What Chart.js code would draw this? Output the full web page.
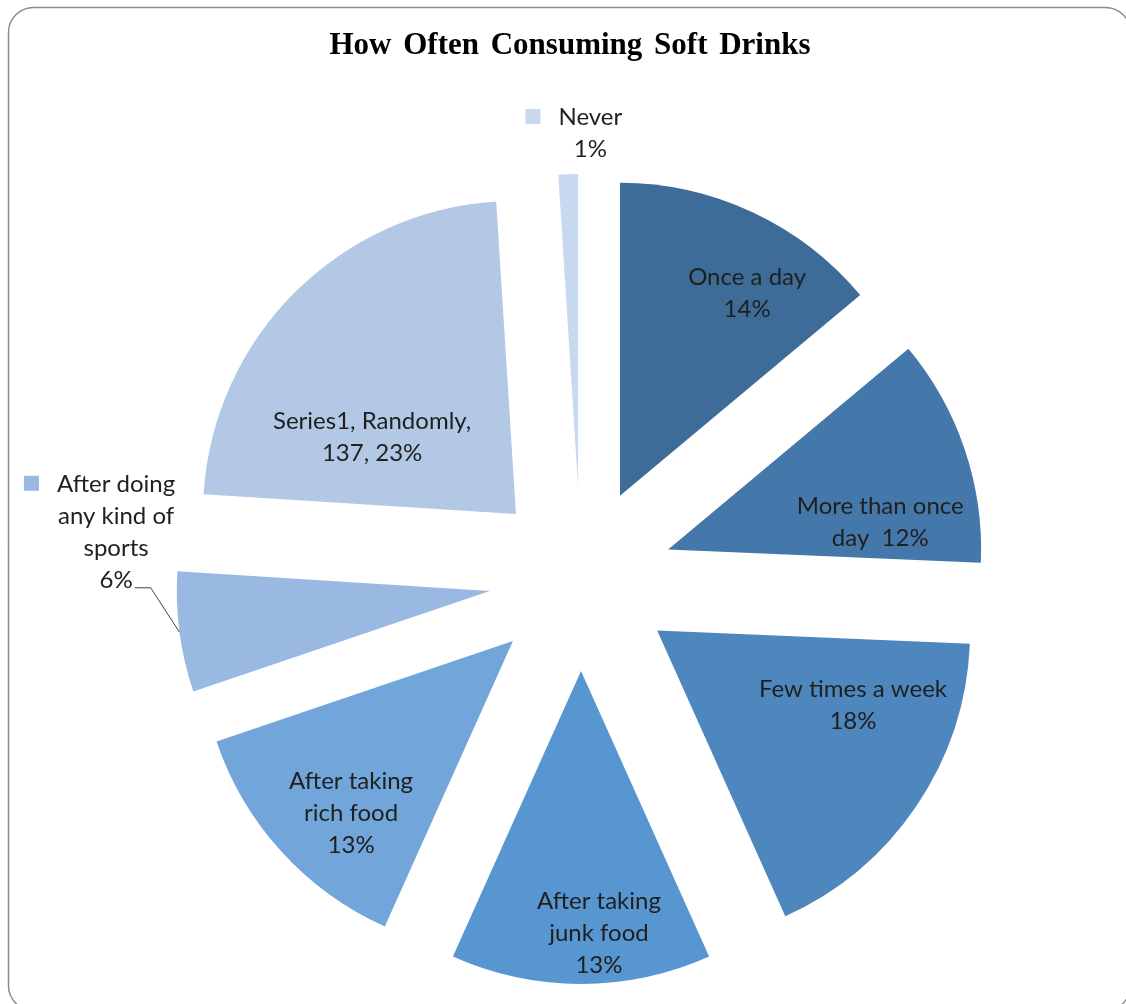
<!DOCTYPE html>
<html lang="en">
<head>
  <meta charset="UTF-8" />
  <title>How Often Consuming Soft Drinks</title>
  <script src="https://cdn.jsdelivr.net/npm/chart.js"></script>
  <style>
    html, body {
      margin: 0;
      padding: 0;
      background: #fff;
    }
    canvas {
      display: block;
    }
  </style>
</head>
<body>
  <canvas id="drinksChart" width="1126" height="1004"></canvas>

  <script>
    // answers, clockwise from 12 o'clock
    const categories = [
      'Once a day', 'More than once day', 'Few times a week', 'After taking junk food',
      'After taking rich food', 'After doing any kind of sports', 'Randomly', 'Never'
    ];
    const counts = [83, 70, 105, 80, 78, 37, 137, 6];
    const sliceColors = [
      '#3e6c98', '#4578aa', '#4d87be', '#5796d0',
      '#72a5d9', '#99b9e2', '#b2c8e5', '#c8d8ee'
    ];
    // label text, {p} = percent, {v} = count
    const labelText = [
      'Once a day\n{p}', 'More than once\nday  {p}', 'Few times a week\n{p}',
      'After taking\njunk food\n{p}', 'After taking\nrich food\n{p}',
      'After doing\nany kind of\nsports\n{p}', 'Series1, Randomly,\n{v}, {p}', 'Never\n{p}'
    ];

    // label placement: [degrees clockwise from top, distance in radii]
    const labelSpots = [
      [30.2, 1.055], [79.3, 0.973], [114.9, 0.958], [177.1, 1.133],
      [224.5, 1.048], [275.8, 1.493], [304.1, 0.806], [1.2, 1.425]
    ];
    const keyedLabels = [5, 7];   // labels outside the pie get a colour key
    const leaderLabels = [5];     // and this one a leader line

    const EXPLODE = 92;
    const RADIUS = 313;
    const LABEL_FONT = '24px Lato';
    const LINE_H = 32;

    const total = counts.reduce((a, b) => a + b, 0);

    function pieCenter(chart) {
      const a = chart.chartArea;
      return { x: (a.left + a.right) / 2, y: (a.top + a.bottom) / 2 };
    }

    // push every slice out along its middle angle
    const explodePlugin = {
      id: 'explode',
      afterUpdate(chart) {
        chart.getDatasetMeta(0).data.forEach(arc => {
          const mid = (arc.startAngle + arc.endAngle) / 2;
          arc.x += Math.cos(mid) * EXPLODE;
          arc.y += Math.sin(mid) * EXPLODE;
        });
      }
    };

    // rounded frame + title
    const framePlugin = {
      id: 'frame',
      beforeDraw(chart) {
        const ctx = chart.ctx;
        ctx.save();
        ctx.beginPath();
        ctx.roundRect(8.5, 7.5, 1122, 1003, 25);
        ctx.strokeStyle = '#8c8c8c';
        ctx.lineWidth = 1.5;
        ctx.stroke();

        ctx.fillStyle = '#000';
        ctx.font = 'bold 31px "Liberation Serif"';
        ctx.wordSpacing = '4px';
        ctx.textAlign = 'center';
        ctx.textBaseline = 'middle';
        ctx.fillText('How Often Consuming Soft Drinks', 570, 46);
        ctx.restore();
      }
    };

    const labelPlugin = {
      id: 'sliceLabels',
      afterDatasetsDraw(chart) {
        const ctx = chart.ctx;
        const meta = chart.getDatasetMeta(0);
        const c = pieCenter(chart);
        const R = meta.data[0].outerRadius;

        ctx.save();
        ctx.font = LABEL_FONT;
        ctx.fillStyle = '#1f1f1f';
        ctx.textAlign = 'center';
        ctx.textBaseline = 'middle';

        counts.forEach((v, i) => {
          const pct = Math.round(v / total * 100) + '%';
          const lines = labelText[i].replace('{p}', pct).replace('{v}', v).split('\n');
          const ang = (labelSpots[i][0] - 90) * Math.PI / 180;
          const x = c.x + Math.cos(ang) * labelSpots[i][1] * R;
          const y = c.y + Math.sin(ang) * labelSpots[i][1] * R;
          const top = y - (lines.length - 1) * LINE_H / 2;

          lines.forEach((ln, k) => ctx.fillText(ln, x, top + k * LINE_H));

          if (keyedLabels.includes(i)) {
            const w0 = ctx.measureText(lines[0]).width;
            ctx.fillStyle = sliceColors[i];
            ctx.fillRect(x - w0 / 2 - 33, top - 8, 15, 15);
            ctx.fillStyle = '#1f1f1f';
          }

          if (leaderLabels.includes(i)) {
            const arc = meta.data[i];
            const mid = (arc.startAngle + arc.endAngle) / 2;
            const last = lines[lines.length - 1];
            const lx = x + ctx.measureText(last).width / 2 + 2;
            const ly = top + (lines.length - 1) * LINE_H + 8;
            ctx.beginPath();
            ctx.moveTo(lx, ly);
            ctx.lineTo(lx + 16, ly);
            ctx.lineTo(arc.x + Math.cos(mid) * R, arc.y + Math.sin(mid) * R);
            ctx.strokeStyle = '#404040';
            ctx.lineWidth = 1;
            ctx.stroke();
          }
        });
        ctx.restore();
      }
    };

    new Chart(document.getElementById('drinksChart'), {
      type: 'pie',
      data: {
        labels: categories,
        datasets: [{
          data: counts,
          backgroundColor: sliceColors,
          borderWidth: 0
        }]
      },
      options: {
        responsive: false,
        animation: false,
        events: [],
        radius: RADIUS,
        layout: { padding: { top: 154, bottom: 0, left: 36, right: 0 } },
        plugins: {
          legend: { display: false },
          tooltip: { enabled: false },
          title: { display: false }
        }
      },
      plugins: [explodePlugin, framePlugin, labelPlugin]
    });
  </script>
</body>
</html>
